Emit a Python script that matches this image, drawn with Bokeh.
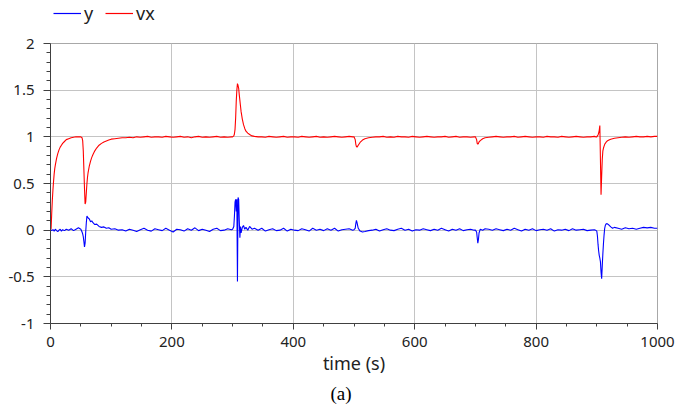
from bokeh.plotting import figure
from bokeh.layouts import column
from bokeh.models import (FixedTicker, CustomJSTickFormatter, Legend, LegendItem, Title,
                          ColumnDataSource)
from bokeh.embed import file_html
from bokeh.resources import INLINE

# ---- data ----
time_s = [
    0, 1, 2, 3, 4, 5, 6, 7, 8, 10, 12, 14, 16, 18, 20, 23, 26, 30, 34, 38, 42, 46, 50,
    52, 53, 54, 55, 56, 57, 58, 59, 60, 61, 62, 64, 66, 68, 70, 73, 76, 80, 84, 88, 92, 96, 100,
    106, 112, 118, 124, 130, 136, 142, 148, 154, 160, 166, 172, 178, 184, 190, 196, 202,
    208, 214, 220, 226, 232, 238, 244, 250, 256, 262, 268, 274, 280, 286, 292, 298,
    300, 302, 303, 304, 305, 306, 307, 308, 309, 310, 311, 312, 313, 314, 316, 318, 320,
    322, 325, 328, 332, 336, 342,
    348, 354, 360, 366, 372, 378, 384, 390, 396, 402, 408, 414, 420, 426, 432, 438, 444,
    450, 456, 462, 468, 474, 480, 486, 492, 498,
    500, 502, 503, 504, 505, 507, 510, 514, 518, 524,
    530, 536, 542, 548, 554, 560, 566, 572, 578, 584, 590, 596, 602, 608, 614, 620, 626,
    632, 638, 644, 650, 656, 662, 668, 674, 680, 686, 692, 698,
    700, 702, 703, 704, 705, 706, 708, 712, 716,
    722, 728, 734, 740, 746, 752, 758, 764, 770, 776, 782, 788, 794, 800, 806, 812, 818,
    824, 830, 836, 842, 848, 854, 860, 866, 872, 878, 884, 890, 896,
    898, 900, 901, 902, 903, 904, 905, 906, 907, 908, 909, 910, 911, 912, 913, 914, 915,
    917, 920, 923, 926, 929,
    935, 941, 947, 953, 959, 965, 971, 977, 983, 989, 995, 1000,
]

vx = [
    0.00, 0.02, 0.18, 0.32, 0.43, 0.52, 0.60, 0.66, 0.70, 0.77, 0.82, 0.86, 0.89, 0.91, 0.93,
    0.95, 0.97, 0.98, 0.99, 0.995, 1.0, 1.0, 1.0,
    0.99, 0.96, 0.85, 0.65, 0.45, 0.28, 0.30, 0.40, 0.50, 0.57, 0.62, 0.69, 0.74, 0.78, 0.81,
    0.85, 0.88, 0.91, 0.93, 0.945, 0.955, 0.965, 0.975,
    0.98, 0.985, 0.99, 0.99, 0.995, 0.99, 1.0, 0.995, 1.0, 1.005, 0.995, 1.0, 1.0, 0.995,
    1.005, 1.0, 0.995, 1.0, 1.005, 0.995, 1.0, 0.99, 1.0, 1.005, 0.995, 1.0, 0.995, 1.0,
    1.005, 0.995, 1.0, 0.995, 1.0,
    1.0, 1.01, 1.03, 1.08, 1.2, 1.38, 1.5, 1.57, 1.55, 1.52, 1.45, 1.39, 1.33, 1.27, 1.19,
    1.13, 1.09, 1.06, 1.04, 1.025, 1.01, 1.005, 1.0,
    1.0, 0.995, 1.005, 1.0, 0.995, 1.0, 1.005, 0.995, 1.0, 1.0, 0.995, 1.005, 1.0, 0.995,
    1.0, 1.005, 0.995, 1.0, 0.995, 1.0, 1.005, 1.0, 0.995, 1.0, 1.005, 1.0,
    1.0, 0.97, 0.92, 0.895, 0.89, 0.91, 0.94, 0.965, 0.98, 0.99,
    0.995, 1.0, 1.0, 1.005, 0.995, 1.0, 0.995, 1.005, 1.0, 1.0, 0.995, 1.005, 1.0, 0.995,
    1.0, 1.005, 1.0, 0.995, 1.0, 1.0, 1.005, 0.995, 1.0, 1.005, 0.995, 1.0, 1.0, 0.995, 1.0,
    1.0, 0.97, 0.93, 0.92, 0.93, 0.945, 0.96, 0.98, 0.99,
    0.995, 1.0, 1.005, 1.0, 0.995, 1.0, 1.0, 1.005, 0.995, 1.0, 1.005, 1.0, 0.995, 1.0,
    1.0, 0.995, 1.005, 1.0, 1.0, 0.995, 1.005, 1.0, 0.995, 1.0, 1.005, 1.0, 0.995, 1.0,
    1.0, 1.005,
    1.0, 1.0, 1.01, 1.02, 1.04, 1.07, 1.12, 0.75, 0.38, 0.58, 0.76, 0.85, 0.88, 0.90, 0.92,
    0.93, 0.94, 0.955, 0.965, 0.975, 0.98, 0.985,
    0.99, 0.995, 1.0, 0.995, 1.0, 1.005, 1.0, 1.0, 1.005, 1.0, 1.005, 1.005,
]

y = [
    0.0, 0.0, -0.005, 0.0, 0.005, 0.0, -0.01, 0.0, 0.01, -0.005, -0.015, 0.0, 0.01, -0.01,
    0.005, -0.005, 0.01, 0.0, 0.015, -0.005, 0.01, 0.025, 0.01,
    -0.02, -0.04, -0.07, -0.12, -0.18, -0.14, -0.02, 0.08, 0.15, 0.14, 0.13, 0.12, 0.09,
    0.10, 0.08, 0.06, 0.065, 0.04, 0.03, 0.035, 0.02, 0.025, 0.01,
    0.015, 0.0, 0.005, -0.01, 0.01, 0.0, -0.015, 0.005, 0.02, 0.0, -0.01, 0.015, 0.005,
    -0.005, 0.02, 0.0, -0.02, 0.01, 0.005, -0.01, 0.015, 0.0, 0.025, -0.005, 0.01, 0.0,
    -0.015, 0.01, 0.02, -0.005, 0.0, 0.015, 0.005,
    0.01, 0.04, 0.15, 0.30, 0.33, 0.20, 0.33, -0.55, 0.35, 0.33, 0.10, -0.08, 0.04, -0.03,
    0.03, 0.05, 0.01, 0.03, 0.0, 0.04, 0.01, 0.02, 0.0,
    0.02, -0.01, 0.005, 0.015, -0.005, 0.0, 0.02, -0.01, 0.01, 0.0, -0.005, 0.015, 0.005,
    -0.01, 0.02, 0.0, 0.01, -0.005, 0.015, 0.0, 0.02, -0.01, 0.005, 0.01, 0.015, 0.0,
    0.005, 0.02, 0.07, 0.105, 0.08, 0.02, -0.01, -0.02, -0.015, -0.005,
    0.0, 0.01, -0.01, 0.005, 0.015, 0.0, -0.005, 0.01, 0.02, 0.0, 0.01, -0.01, 0.005, 0.0,
    0.015, 0.005, -0.005, 0.01, 0.0, 0.02, 0.005, -0.01, 0.01, 0.0, 0.015, -0.005, 0.005,
    0.01, 0.0,
    0.0, -0.02, -0.08, -0.14, -0.10, -0.03, 0.01, 0.0, 0.015,
    0.01, 0.0, 0.015, 0.005, -0.005, 0.01, 0.0, 0.02, 0.005, -0.01, 0.01, 0.0, 0.015,
    -0.005, 0.005, 0.01, 0.0, 0.015, -0.01, 0.005, 0.0, 0.01, -0.005, 0.015, 0.0, 0.005,
    0.01, -0.005, 0.0, 0.005,
    0.0, -0.01, -0.06, -0.15, -0.22, -0.27, -0.30, -0.34, -0.45, -0.52, -0.38, -0.25,
    -0.14, -0.05, 0.02, 0.05, 0.065, 0.07, 0.055, 0.035, 0.02, 0.03,
    0.02, 0.01, 0.025, 0.015, 0.02, 0.01, 0.02, 0.03, 0.025, 0.03, 0.02, 0.02,
]

x_ticks = [0, 200, 400, 600, 800, 1000]
x_minor = [50, 100, 150, 250, 300, 350, 450, 500, 550, 650, 700, 750, 850, 900, 950]
y_ticks = [-1, -0.5, 0, 0.5, 1, 1.5, 2]
y_minor = [-0.9, -0.8, -0.7, -0.6, -0.4, -0.3, -0.2, -0.1, 0.1, 0.2, 0.3, 0.4,
           0.6, 0.7, 0.8, 0.9, 1.1, 1.2, 1.3, 1.4, 1.6, 1.7, 1.8, 1.9]
series_names = ["y", "vx"]
series_colors = ["#0000ff", "#ff0000"]
x_label = "time (s)"
caption = "(a)"

FONT = "Noto Sans"
LEG_H = 30

source = ColumnDataSource(data=dict(t=time_s, y=y, vx=vx))

# ---- legend strip (separate figure so the legend can sit above the frame) ----
# its y range lies away from the data, so only the legend entries are visible
pl = figure(width=678, height=LEG_H, x_range=(0, 1000), y_range=(10, 11),
            output_backend="svg", toolbar_location=None, min_border=0,
            x_axis_location=None, y_axis_location=None,
            outline_line_color=None)
pl.grid.visible = False
pl.border_fill_color = "white"
lr_y = pl.line("t", "y", source=source, line_color=series_colors[0], line_width=1.2)
lr_vx = pl.line("t", "vx", source=source, line_color=series_colors[1], line_width=1.2)
legend = Legend(items=[LegendItem(label=series_names[0], renderers=[lr_y]),
                       LegendItem(label=series_names[1], renderers=[lr_vx])],
                orientation="horizontal", location=(3, 5),
                border_line_color=None, background_fill_alpha=0,
                padding=0, margin=0, spacing=1, label_standoff=3,
                glyph_width=28, glyph_height=18, label_height=18,
                label_text_font=FONT, label_text_font_size="18px",
                label_text_color="#222222", label_text_baseline="middle")
pl.add_layout(legend, "center")

# ---- main chart ----
p = figure(width=678, height=409 - LEG_H, x_range=(0, 1000), y_range=(-1, 2),
           output_backend="svg", toolbar_location=None,
           min_border_left=50, min_border_right=21, min_border_top=43 - LEG_H,
           min_border_bottom=86)

p.line("t", "y", source=source, line_color=series_colors[0], line_width=1.1)
p.line("t", "vx", source=source, line_color=series_colors[1], line_width=1.1)

p.xaxis.ticker = FixedTicker(ticks=x_ticks, minor_ticks=x_minor)
p.yaxis.ticker = FixedTicker(ticks=y_ticks, minor_ticks=y_minor)
p.yaxis.formatter = CustomJSTickFormatter(code="return tick.toString();")
p.xaxis.formatter = CustomJSTickFormatter(code="return tick.toString();")

for ax in (p.xaxis, p.yaxis):
    ax.axis_line_color = "#404040"
    ax.major_tick_line_color = "#404040"
    ax.minor_tick_line_color = "#404040"
    ax.major_tick_in = 0
    ax.minor_tick_in = 0
    ax.major_label_text_font = FONT
    ax.major_label_text_font_size = "15px"
    ax.major_label_text_color = "#222222"

p.yaxis.major_tick_out = 7
p.yaxis.minor_tick_out = 4
p.yaxis.major_label_standoff = 9
p.xaxis.major_tick_out = 6
p.xaxis.minor_tick_out = 3
p.xaxis.major_label_standoff = 7

p.xaxis.axis_label = x_label
p.xaxis.axis_label_text_font = FONT
p.xaxis.axis_label_text_font_size = "18px"
p.xaxis.axis_label_text_font_style = "normal"
p.xaxis.axis_label_text_color = "#222222"
p.xaxis.axis_label_standoff = 1

p.grid.grid_line_color = "#c4c4c4"
p.grid.grid_line_width = 1
p.outline_line_color = "#a8a8a8"
p.background_fill_color = "white"
p.border_fill_color = "white"

p.add_layout(Title(text=caption, align="left", offset=280, standoff=7,
                   text_font="Liberation Serif",
                   text_font_size="19px", text_font_style="normal",
                   text_color="black"), "below")

layout = column(pl, p, spacing=0)
open("out.html", "w").write(file_html(layout, INLINE))
